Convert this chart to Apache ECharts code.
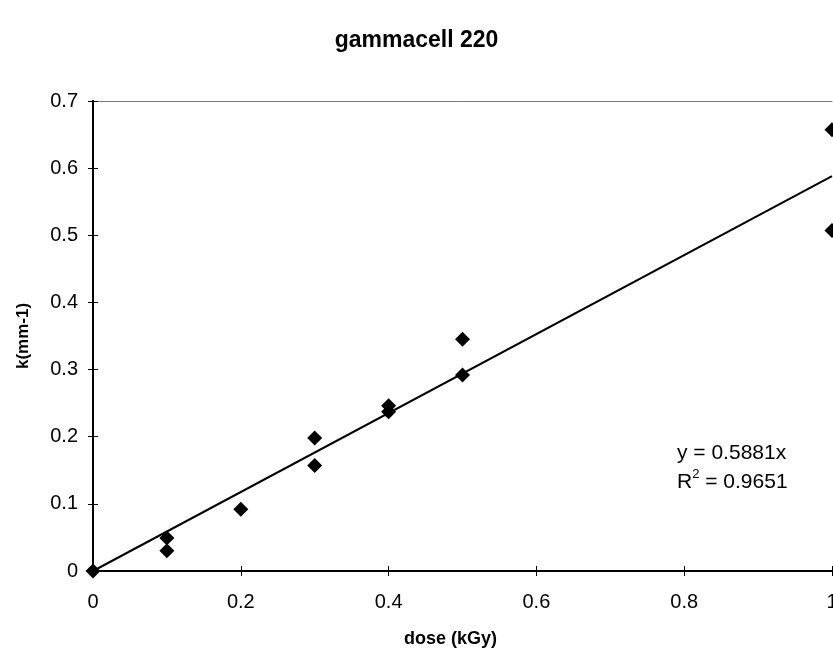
<!DOCTYPE html>
<html>
<head>
<meta charset="utf-8">
<script src="https://cdn.jsdelivr.net/npm/echarts@6/dist/echarts.min.js"></script>
<style>html,body{margin:0;padding:0;background:#fff}#c{width:833px;height:652px}</style>
</head>
<body>
<div id="c"></div>
<script>
var doseX = [0, 0.1, 0.1, 0.2, 0.3, 0.3, 0.4, 0.4, 0.5, 0.5, 1, 1];
var kY = [0, 0.049, 0.030, 0.092, 0.198, 0.157, 0.246, 0.237, 0.345, 0.292, 0.657, 0.507];
var trendX = [0, 1];
var trendY = [0, 0.5881];
var eqText = ['y = 0.5881x', 'R{s|2} = 0.9651'];

var chart = echarts.init(document.getElementById('c'));
var font = 'Liberation Sans, Arial, sans-serif';
var ptData = doseX.map(function (x, i) { return [x, kY[i]]; });
var trData = trendX.map(function (x, i) { return [x, trendY[i]]; });

function xAx(inside, show, pos) {
  return {
    type: 'value', min: 0, max: 1, interval: 0.2,
    position: pos || 'bottom',
    axisLine: { show: true, onZero: false, lineStyle: { color: pos ? '#777' : '#000', width: pos ? 1 : 2 } },
    axisTick: { show: !pos, inside: inside, length: 5, lineStyle: { color: '#000', width: 1 } },
    axisLabel: { show: show, color: '#000', fontFamily: font, fontSize: 20, margin: 21 },
    splitLine: { show: false },
    name: show ? 'dose (kGy)' : '', nameLocation: 'middle', nameGap: 59,
    nameTextStyle: { color: '#000', fontFamily: font, fontSize: 18, fontWeight: 'bold', padding: [0, 24, 0, 0] }
  };
}
function yAx(inside, show) {
  return {
    type: 'value', min: 0, max: 0.7, interval: 0.1,
    position: 'left',
    axisLine: { show: true, onZero: false, lineStyle: { color: '#000', width: 2 } },
    axisTick: { show: true, inside: inside, length: 5, lineStyle: { color: '#000', width: 1 } },
    axisLabel: { show: show, color: '#000', fontFamily: font, fontSize: 20, margin: 15 },
    splitLine: { show: false },
    name: show ? 'k(mm-1)' : '', nameLocation: 'middle', nameGap: 61, nameRotate: 90,
    nameTextStyle: { color: '#000', fontFamily: font, fontSize: 17, fontWeight: 'bold' }
  };
}

chart.setOption({
  backgroundColor: '#fff',
  animation: false,
  title: {
    text: 'gammacell 220', left: 'center', top: 24,
    textStyle: { color: '#000', fontFamily: font, fontSize: 23, fontWeight: 'bold' }
  },
  grid: { left: 93, right: 1, top: 101, bottom: 81, show: false, outerBoundsMode: 'none', containLabel: false },
  xAxis: [xAx(false, true), xAx(true, false), xAx(false, false, 'top')],
  yAxis: [yAx(false, true), yAx(true, false)],
  graphic: [{
    type: 'text', left: 677, top: 439,
    style: {
      text: eqText.join('\n'), fill: '#000', font: '21px ' + font, lineHeight: 29, align: 'center',
      rich: { s: { fontSize: 13, verticalAlign: 'top', lineHeight: 13, padding: [0, 0, 10, 0] } }
    }
  }],
  series: [
    { type: 'line', xAxisIndex: 0, yAxisIndex: 0, data: trData, symbol: 'none', lineStyle: { color: '#000', width: 2 }, z: 2 },
    { type: 'scatter', xAxisIndex: 0, yAxisIndex: 0, data: ptData, symbol: 'diamond', symbolSize: 15, itemStyle: { color: '#000', opacity: 1 }, z: 3, clip: false }
  ]
});
</script>
</body>
</html>
